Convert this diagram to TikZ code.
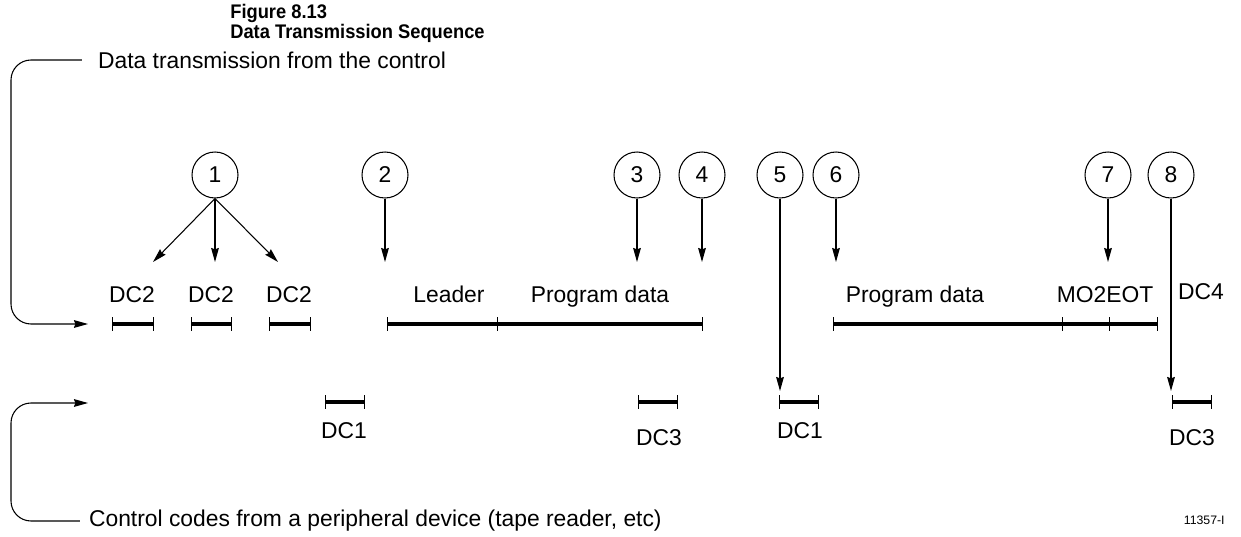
\documentclass[tikz,border=0pt]{standalone}
\usepackage{fontspec}
\setmainfont{Liberation Sans}
\usetikzlibrary{arrows.meta}

\begin{document}
\begin{tikzpicture}[
        x=0.02cm, y=-0.02cm,
        num/.style={circle, draw, line width=0.6pt, minimum size=0.92cm, inner sep=0pt, font=\fontsize{13}{15}\selectfont},
        lbl/.style={inner sep=1pt, font=\fontsize{13}{15}\selectfont},
        code/.style={lbl, anchor=base},
        ttl/.style={inner sep=0pt, anchor=north west, align=left, font=\fontsize{11.2}{9.6}\selectfont\bfseries},
        arrow/.style={-{Stealth[length=8pt, width=4.4pt, inset=0.8pt]}, line width=0.6pt},
        bracket/.style={-{Stealth[length=8pt, width=4.4pt, inset=0.8pt]}, line width=0.6pt, rounded corners=0.4cm},
        codebar/.style={line width=2pt},
        tick/.style={line width=0.5pt}
    ]
        \useasboundingbox (0,0) rectangle (1241,537);

        % Title
        \node[ttl] (title) at (230,4) {\scalebox{0.93}[1]{Figure 8.13}\\\scalebox{0.93}[1]{Data Transmission Sequence}};

        % Brackets on the left
        \node[lbl, anchor=west] (ttop) at (96,60) {Data transmission from the control};
        \node[lbl, anchor=west] (tbot) at (87,521) {Control codes from a peripheral device (tape reader, etc)};
        \coordinate (intop) at (88,324);
        \coordinate (inbot) at (88,403);
        \draw[bracket] ([xshift=-8pt]ttop.west) -| (11,324) -- (intop);
        \draw[bracket] ([xshift=-4pt]tbot.west) -| (11,403) -- (inbot);

        % Code bars
        \foreach \a/\b/\y in {112/153/324, 191/231/324, 269/310/324, 387/702/324, 833/1157/324,
                              325/364/402, 638/677/402, 779/818/402, 1172/1211/402} {
            \draw[codebar] (\a,\y) -- (\b,\y);
            \draw[tick] (\a,\y-7) -- (\a,\y+7);
            \draw[tick] (\b,\y-7) -- (\b,\y+7);
        }
        \foreach \a in {497, 1062, 1109}
            \draw[tick] (\a,317) -- (\a,331);

        % Bar labels
        \node[code] (dc2a) at (132,302) {DC2};
        \node[code] (dc2b) at (211,302) {DC2};
        \node[code] (dc2c) at (289,302) {DC2};
        \node[code] (leader) at (449,302) {Leader};
        \node[code] (prog1) at (600,302) {Program data};
        \node[code] (prog2) at (915,302) {Program data};
        \node[code] (eot) at (1105,302) {MO2EOT};
        \node[code] (dc4) at (1201,299) {DC4};
        \node[code] (dc1a) at (344,438) {DC1};
        \node[code] (dc3a) at (659,445) {DC3};
        \node[code] (dc1b) at (800,438) {DC1};
        \node[code] (dc3b) at (1192,445) {DC3};

        % Numbered steps
        \node[num] (c1) at (215,175) {1};
        \node[num] (c2) at (385,175) {2};
        \node[num] (c3) at (637,175) {3};
        \node[num] (c4) at (702,175) {4};
        \node[num] (c5) at (780,175) {5};
        \node[num] (c6) at (836,175) {6};
        \node[num] (c7) at (1108,175) {7};
        \node[num] (c8) at (1171,175) {8};

        \coordinate (t1a) at (153,262);
        \coordinate (t1b) at (215,262);
        \coordinate (t1c) at (278,262);
        \coordinate (t2) at (385,262);
        \coordinate (t3) at (637,262);
        \coordinate (t4) at (702,262);
        \coordinate (t5) at (780,391);
        \coordinate (t6) at (836,262);
        \coordinate (t7) at (1108,262);
        \coordinate (t8) at (1171,391);

        \draw[arrow] (c1.south) -- (t1a);
        \draw[arrow] (c1.south) -- (t1b);
        \draw[arrow] (c1.south) -- (t1c);
        \draw[arrow] (c2) -- (t2);
        \draw[arrow] (c3) -- (t3);
        \draw[arrow] (c4) -- (t4);
        \draw[arrow] (c5) -- (t5);
        \draw[arrow] (c6) -- (t6);
        \draw[arrow] (c7) -- (t7);
        \draw[arrow] (c8) -- (t8);

        % Figure number
        \node[inner sep=0pt, anchor=east, font=\fontsize{7}{8}\selectfont] (fignum) at (1225,520) {11357-I};
\end{tikzpicture}
\end{document}
